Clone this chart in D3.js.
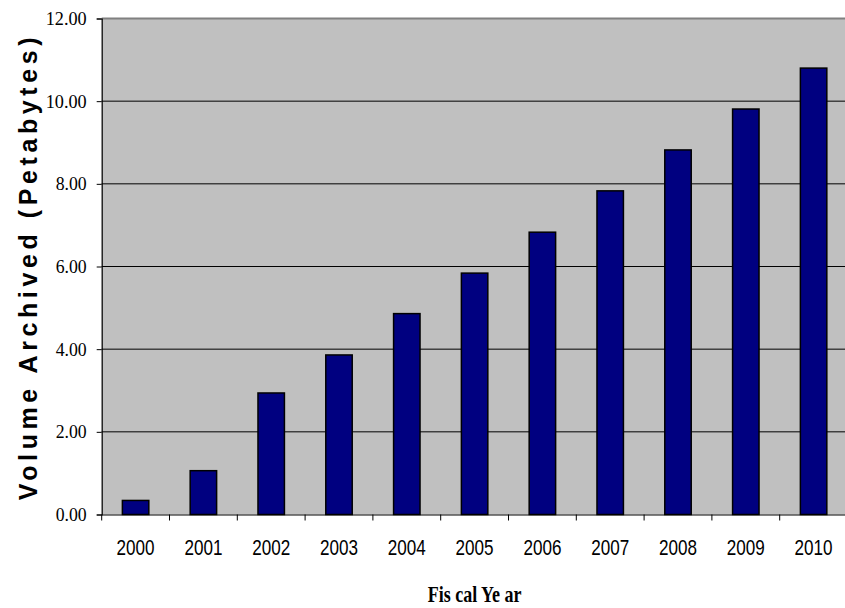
<!DOCTYPE html>
<html>
  <head>
    <title>Volume Archived</title>
    <script src="https://d3js.org/d3.v7.min.js"></script>
    <style>
      body { margin: 0; background: #fff; }
    </style>
  </head>
  <body>
    <svg width="845" height="608"></svg>
    <script>
      const years = ["2000", "2001", "2002", "2003", "2004", "2005", "2006", "2007", "2008", "2009", "2010"];
      const volumes = [0.34, 1.06, 2.94, 3.86, 4.86, 5.84, 6.83, 7.83, 8.82, 9.81, 10.80];
      const yTicks = [0, 2, 4, 6, 8, 10, 12];

      const svg = d3.select("svg");
      const plotLeft = 101.7, plotRight = 847.5, plotTop = 18.5, plotBottom = 514.5;

      const x = d3.scaleBand().domain(years).range([plotLeft, plotRight]).padding(0);
      const y = d3.scaleLinear().domain([0, 12]).range([plotBottom, plotTop]);
      const barW = x.bandwidth() * 0.39;

      // plot background
      svg.append("rect")
        .attr("x", plotLeft).attr("y", plotTop)
        .attr("width", plotRight - plotLeft).attr("height", plotBottom - plotTop)
        .attr("fill", "#c0c0c0");

      // gridlines
      svg.selectAll(".grid")
        .data(yTicks.filter(d => d > 0 && d < 12))
        .enter().append("line")
          .attr("x1", plotLeft).attr("x2", plotRight)
          .attr("y1", d => y(d)).attr("y2", d => y(d))
          .attr("stroke", "#000").attr("stroke-width", 1);

      // top border
      svg.append("line")
        .attr("x1", plotLeft).attr("x2", plotRight)
        .attr("y1", y(12)).attr("y2", y(12))
        .attr("stroke", "#808080").attr("stroke-width", 2);

      // bars
      svg.selectAll(".bar")
        .data(years)
        .enter().append("rect")
          .attr("x", d => x(d) + (x.bandwidth() - barW) / 2)
          .attr("y", (d, i) => y(volumes[i]))
          .attr("width", barW)
          .attr("height", (d, i) => y(0) - y(volumes[i]))
          .attr("fill", "#000080")
          .attr("stroke", "#000")
          .attr("stroke-width", 1.5);

      // y axis
      const yAxis = svg.append("g")
        .attr("transform", `translate(${plotLeft},0)`)
        .call(d3.axisLeft(y).tickValues(yTicks).tickSize(5).tickPadding(10).tickFormat(d3.format(".2f")));
      yAxis.select(".domain").attr("stroke", "#000").attr("stroke-width", 1.2);
      yAxis.selectAll(".tick line").attr("stroke", "#000");
      yAxis.selectAll(".tick text")
        .style("font-family", "'Liberation Serif', 'Times New Roman', serif")
        .style("font-size", "19px")
        .attr("fill", "#000")
        .attr("textLength", d => d >= 10 ? 41 : 31)
        .attr("lengthAdjust", "spacingAndGlyphs");

      // x axis
      const xAxis = svg.append("g")
        .attr("transform", `translate(0,${plotBottom})`)
        .call(d3.axisBottom(x).tickSize(0).tickPadding(25));
      xAxis.select(".domain").attr("stroke", "#000").attr("stroke-width", 1.2);
      xAxis.selectAll(".tick text")
        .style("font-family", "'Liberation Sans', Arial, sans-serif")
        .style("font-size", "22px")
        .attr("fill", "#000")
        .attr("textLength", 38)
        .attr("lengthAdjust", "spacingAndGlyphs");

      // boundary ticks between categories
      svg.selectAll(".xtick")
        .data(years)
        .enter().append("line")
          .attr("x1", d => x(d)).attr("x2", d => x(d))
          .attr("y1", plotBottom).attr("y2", plotBottom + 6)
          .attr("stroke", "#000");

      // axis titles
      svg.append("text")
        .attr("transform", `translate(37,${(plotTop + plotBottom) / 2}) rotate(-90)`)
        .attr("text-anchor", "middle")
        .style("font-family", "'Liberation Sans', Arial, sans-serif")
        .style("font-size", "25px")
        .style("font-weight", "bold")
        .style("letter-spacing", "4.6px")
        .text("Volume Archived (Petabytes)");

      svg.append("text")
        .attr("transform", `translate(${(plotLeft + plotRight) / 2},602) scale(1,1.3)`)
        .attr("text-anchor", "middle")
        .style("font-family", "'Liberation Serif', 'Times New Roman', serif")
        .style("font-size", "18px")
        .style("font-weight", "bold")
        .text("Fis cal Ye ar");
    </script>
  </body>
</html>
